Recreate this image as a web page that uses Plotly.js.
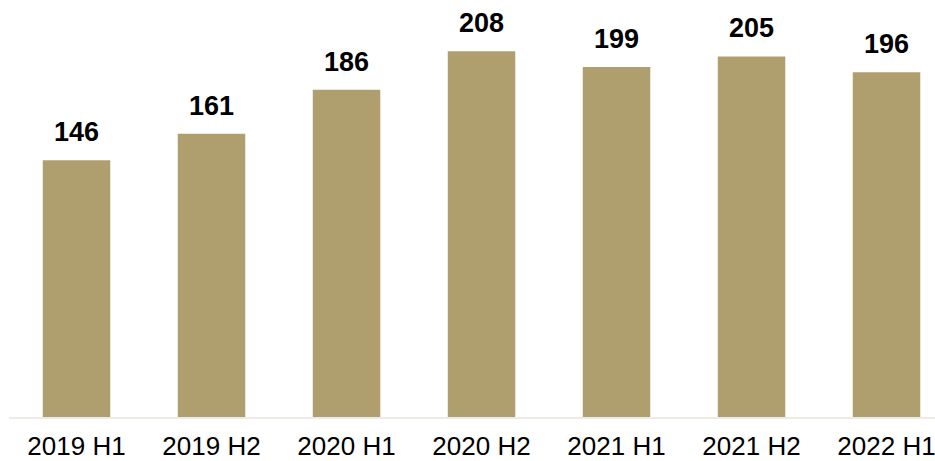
<!DOCTYPE html>
<html>
<head>
<meta charset="utf-8">
<script src="https://cdn.plot.ly/plotly-3.0.1.min.js"></script>
<style>html,body{margin:0;padding:0;background:#fff;overflow:hidden}</style>
</head>
<body>
<div id="chart" style="width:935px;height:461px"></div>
<script>
const categories = ["2019 H1","2019 H2","2020 H1","2020 H2","2021 H1","2021 H2","2022 H1"];
const values = [146,161,186,208,199,205,196];

const trace = {
  type: "bar",
  x: categories,
  y: values,
  marker: {color: "#B09F6E"},
  width: 0.5,
  hoverinfo: "skip"
};

const annotations = categories.map((c, i) => ({
  x: c, y: values[i], xref: "x", yref: "y",
  text: "<b>" + values[i] + "</b>",
  showarrow: false, xanchor: "center", yanchor: "bottom",
  yshift: 11,
  font: {family: "Liberation Sans, Arial, sans-serif", size: 27, color: "#000"}
}));

const layout = {
  width: 935, height: 461,
  margin: {l: 9, r: 0, t: 0, b: 44},
  paper_bgcolor: "#fff", plot_bgcolor: "#fff",
  showlegend: false,
  bargap: 0.5,
  annotations: annotations,
  xaxis: {
    type: "category",
    range: [-0.5, 6.359],
    showline: true, linecolor: "#EEEAE4", linewidth: 2,
    showgrid: false, zeroline: false,
    ticks: "", ticklabelstandoff: 5,
    tickfont: {family: "Liberation Sans, Arial, sans-serif", size: 26, color: "#000"}
  },
  yaxis: {
    range: [0, 237.1],
    visible: false, showgrid: false, zeroline: false
  }
};

Plotly.newPlot("chart", [trace], layout, {staticPlot: true, displayModeBar: false});
</script>
</body>
</html>
